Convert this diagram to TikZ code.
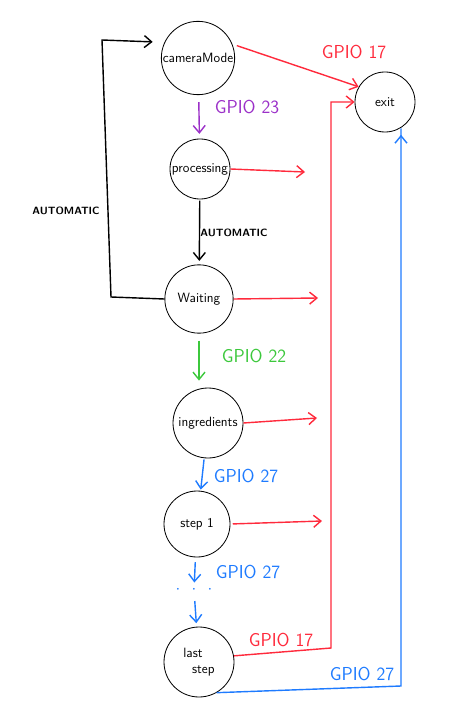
\documentclass[tikz,border=0pt]{standalone}
\usetikzlibrary{arrows.meta}
\definecolor{gpiored}{HTML}{FF2A3C}
\definecolor{gpiopurple}{HTML}{9B30C8}
\definecolor{gpiogreen}{HTML}{3CC83C}
\definecolor{gpioblue}{HTML}{1E7BFF}
\tikzset{
	state/.style={draw, circle, inner sep=0pt, line width=0.7pt, font=\fontsize{11.5}{13}\selectfont\sffamily},
	edge/.style={line width=1.2pt, -{Straight Barb[length=2.2mm,width=3.6mm]}},
	gpio/.style={font=\fontsize{16}{18}\selectfont\sffamily},
	auto/.style={font=\small\sffamily\bfseries}
}
\begin{document}
\begin{tikzpicture}[x=0.03cm, y=-0.03cm]
	\useasboundingbox (0,0) rectangle (452,712);
	\node[state, minimum size=2.2cm] (camera) at (198,58) {cameraMode};
	\node[state, minimum size=1.8cm] (exit) at (385,102) {exit};
	\node[state, minimum size=1.8cm] (proc) at (200,169) {processing};
	\node[state, minimum size=2.05cm] (wait) at (199,299) {Waiting};
	\node[state, minimum size=2.1cm] (ingr) at (208,423) {ingredients};
	\node[state, minimum size=1.98cm] (step1) at (197,524) {step 1};
	\node[text=gpioblue, font=\Large, inner sep=0pt] (dots) at (194,590) {$\cdot\;\,\cdot\;\,\cdot$};
	\node[state, minimum size=2.1cm, align=left] (last) at (199,662) {last\\[1pt]\ \ step};
	% free ends and corners
	\coordinate (pend) at (305,172);
	\coordinate (wend) at (318,298);
	\coordinate (iend) at (317,418);
	\coordinate (send) at (322,521);
	\coordinate (redc) at (331,648);
	\coordinate (bluec) at (401,686);
	\coordinate (autoa) at (111,297);
	\coordinate (autob) at (102,40);
	% down the column
	\draw[edge, gpiopurple, shorten <=6pt, shorten >=4pt] (camera) -- (proc);
	\draw[edge, shorten <=1pt, shorten >=3pt] (proc) -- (wait);
	\draw[edge, gpiogreen, shorten <=6pt, shorten >=6pt] (wait.south) -- (wait.south |- ingr.north);
	\draw[edge, gpioblue, shorten <=1pt, shorten >=1pt] (ingr) -- (step1);
	\draw[edge, gpioblue, shorten <=4pt, shorten >=3pt] (step1) -- (dots);
	\draw[edge, gpioblue, shorten <=6pt, shorten >=3pt] (dots) -- (last);
	\draw[edge, shorten >=10pt] (wait.west) -- (autoa) -- (autob) -- (camera.155);
	% to exit
	\draw[edge, gpiored, shorten <=4pt] (camera.22) -- (exit.150);
	\draw[edge, gpiored] (proc.east) -- (pend);
	\draw[edge, gpiored] (wait.east) -- (wend);
	\draw[edge, gpiored] (ingr.east) -- (iend);
	\draw[edge, gpiored, shorten <=2pt] (step1.east) -- (send);
	\draw[edge, gpiored] (last.10) -- (redc) |- (exit.west);
	\draw[edge, gpioblue, shorten >=2pt] (last.-60) -- (bluec) |- (exit.south -| bluec);
	% labels
	\node[gpio, text=gpiored] at (354,52) {GPIO 17};
	\node[gpio, text=gpiopurple] at (247,107) {GPIO 23};
	\node[auto] at (234,233) {AUTOMATIC};
	\node[auto] at (66,211) {AUTOMATIC};
	\node[gpio, text=gpiogreen] at (254,356) {GPIO 22};
	\node[gpio, text=gpioblue] at (246,476) {GPIO 27};
	\node[gpio, text=gpioblue] at (248,572) {GPIO 27};
	\node[gpio, text=gpiored] at (281,640) {GPIO 17};
	\node[gpio, text=gpioblue] at (362,674) {GPIO 27};
\end{tikzpicture}
\end{document}
